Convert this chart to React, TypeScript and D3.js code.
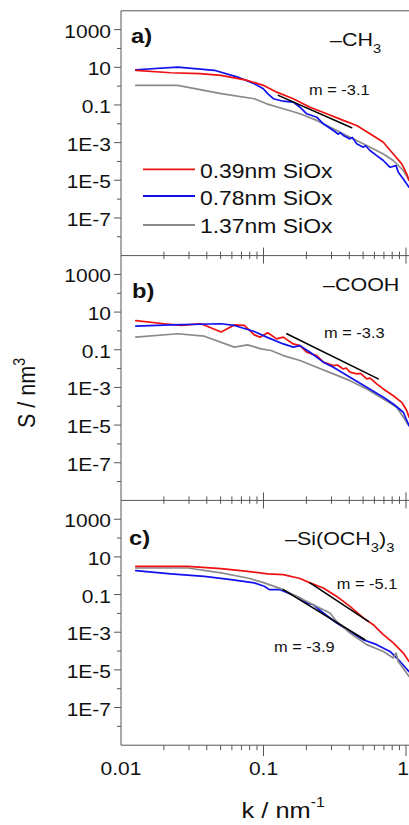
import React from 'react';
import * as d3 from 'd3';

// ---------- data (k in nm^-1, S in nm^3) ----------
const yTickLabels = ['1000', '10', '0.1', '1E-3', '1E-5', '1E-7'];
const yTickValues = [1e3, 1e1, 1e-1, 1e-3, 1e-5, 1e-7];
const yMinorValues = [1e2, 1, 1e-2, 1e-4, 1e-6, 1e-8];
const xTickLabels = ['0.01', '0.1', '1'];
const xTickValues = [0.01, 0.1, 1];
const legendLabels = ['0.39nm SiOx', '0.78nm SiOx', '1.37nm SiOx'];

// panel a) -CH3
const redA_k = [0.0127, 0.0224, 0.0358, 0.0504, 0.0774, 0.0997, 0.1238, 0.1618, 0.212, 0.2777, 0.3631, 0.4508, 0.559, 0.6934, 0.8147, 0.9333, 1.0116, 1.05];
const redA_S = [6.92, 5.13, 4.57, 3.72, 2.0, 1.1, 0.479, 0.214, 0.0759, 0.0339, 0.0151, 0.00813, 0.00295, 1.05e-3, 2.5e-4, 7.4e-5, 2.2e-5, 1e-5];
const blueA_k = [0.0127, 0.025, 0.0452, 0.0659, 0.0861, 0.0997, 0.107, 0.1172, 0.1377, 0.1618, 0.1803, 0.2011, 0.2363, 0.2629, 0.309, 0.335, 0.345, 0.3631, 0.4046, 0.42, 0.4508, 0.5015, 0.52, 0.559, 0.6227, 0.6934, 0.7723, 0.8511, 0.8831, 0.9575, 1.05];
const blueA_S = [7.41, 10.2, 6.92, 3.02, 1.35, 0.724, 0.398, 0.214, 0.158, 0.141, 0.0759, 0.0339, 0.0224, 0.01, 0.00437, 0.0028, 0.0034, 0.0024, 0.00158, 0.0019, 8.7e-4, 5.75e-4, 6.8e-4, 3.8e-4, 2.04e-4, 1.12e-4, 4.9e-5, 6.0e-5, 2.7e-5, 1.17e-5, 4.3e-6];
const grayA_k = [0.0127, 0.025, 0.0504, 0.0861, 0.1053, 0.1377, 0.1803, 0.2363, 0.309, 0.4046, 0.53, 0.6934, 0.8147, 0.9575, 1.05];
const grayA_S = [1.1, 1.1, 0.398, 0.214, 0.115, 0.063, 0.0339, 0.0151, 0.00537, 0.00195, 7.1e-4, 2.5e-4, 1.12e-4, 3.3e-5, 1e-5];
const fitA_k = [0.127, 0.416];
const fitA_S = [0.324, 0.00617];

// panel b) -COOH
const redB_k = [0.0127, 0.0201, 0.0264, 0.0364, 0.0504, 0.0624, 0.0733, 0.0803, 0.0861, 0.0944, 0.107, 0.1238, 0.1377, 0.1618, 0.1803, 0.2011, 0.2363, 0.2629, 0.309, 0.33, 0.3631, 0.38, 0.4046, 0.4508, 0.48, 0.53, 0.56, 0.6227, 0.6934, 0.8147, 0.9333, 1.0116, 1.05];
const redB_S = [3.55, 2.4, 1.95, 2.4, 0.871, 2.09, 1.95, 1.05, 0.617, 0.468, 0.794, 0.38, 0.468, 0.204, 0.166, 0.0741, 0.049, 0.0219, 0.0145, 0.0155, 0.00955, 0.0108, 0.00646, 0.00525, 0.0056, 0.00282, 0.0031, 0.00155, 8.3e-4, 3.6e-4, 1.62e-4, 5.9e-5, 2.6e-5];
const blueB_k = [0.0127, 0.0224, 0.0504, 0.0624, 0.0861, 0.1053, 0.1129, 0.1377, 0.1618, 0.1803, 0.212, 0.2629, 0.309, 0.4046, 0.53, 0.6934, 0.8147, 0.9575, 1.05];
const blueB_S = [1.82, 2.09, 2.4, 1.95, 0.933, 0.468, 0.38, 0.204, 0.138, 0.166, 0.0741, 0.0219, 0.0117, 0.00347, 0.00102, 3.0e-4, 1.32e-4, 4.8e-5, 9.3e-6];
const grayB_k = [0.0127, 0.025, 0.0384, 0.0624, 0.0774, 0.096, 0.1129, 0.1377, 0.1803, 0.2363, 0.309, 0.4046, 0.53, 0.6934, 0.861, 1.05];
const grayB_S = [0.468, 0.708, 0.525, 0.138, 0.182, 0.112, 0.0912, 0.049, 0.0269, 0.0117, 0.00525, 0.00229, 8.3e-4, 2.45e-4, 8.9e-5, 9.3e-6];
const fitB_k = [0.1455, 0.639];
const fitB_S = [0.708, 0.00282];

// panel c) -Si(OCH3)3
const redC_k = [0.0127, 0.0294, 0.0504, 0.0774, 0.107, 0.1377, 0.1803, 0.212, 0.263, 0.3264, 0.4046, 0.5015, 0.5896, 0.6227, 0.6934, 0.8147, 0.9575, 1.05];
const redC_S = [3.16, 3.16, 2.4, 1.7, 1.26, 1.15, 0.708, 0.417, 0.224, 0.0794, 0.0234, 0.00575, 0.00251, 0.00166, 7.4e-4, 2.7e-4, 7.8e-5, 2.8e-5];
const blueC_k = [0.0127, 0.0224, 0.0384, 0.0592, 0.0861, 0.1013, 0.1098, 0.1306, 0.1803, 0.2011, 0.2237, 0.2629, 0.3264, 0.4046, 0.5015, 0.6227, 0.7723, 0.908, 1.05];
const blueC_S = [1.86, 1.26, 0.933, 0.617, 0.417, 0.275, 0.182, 0.182, 0.066, 0.0355, 0.0288, 0.0105, 0.00309, 0.0011, 3.98e-4, 2.19e-4, 9.5e-5, 2.8e-5, 8.1e-6];
const grayC_k = [0.0127, 0.0294, 0.0504, 0.0774, 0.1013, 0.1377, 0.1803, 0.2363, 0.2928, 0.3264, 0.4046, 0.53, 0.6934, 0.8147, 0.8511, 0.8831, 1.05];
const grayC_S = [2.57, 2.57, 1.41, 0.759, 0.417, 0.182, 0.066, 0.0234, 0.0105, 0.00372, 9.1e-4, 2.19e-4, 9.5e-5, 4.3e-5, 7.8e-5, 2.8e-5, 4.5e-6];
const fitC1_k = [0.212, 0.544];
const fitC1_S = [0.417, 0.00372];
const fitC2_k = [0.1377, 0.515];
const fitC2_S = [0.182, 3.98e-4];

// ---------- layout ----------
const W = 409;
const H = 825;
const X0 = 121;
const X1 = 406;
const TOP = 10.8;
const PH = 244.8;
const SX = 1.13;
const FONT = "'Liberation Sans', Arial, Helvetica, sans-serif";
const RED = '#ee1111';
const BLUE = '#1111ee';
const GRAY = '#8a8a8a';
const AXIS = '#555';

const xScale = d3.scaleLog().domain([0.01, 1]).range([X0, X1]);
const yScaleFor = (i: number) =>
  d3.scaleLog().domain([1e-9, 1e4]).range([TOP + (i + 1) * PH, TOP + i * PH]);

type TProps = {
  x: number;
  y: number;
  size: number;
  anchor?: string;
  weight?: string;
  children?: React.ReactNode;
};
function T({ x, y, size, anchor = 'start', weight = 'normal', children }: TProps) {
  return (
    <text
      transform={`translate(${x},${y}) scale(${SX},1)`}
      fontSize={size}
      textAnchor={anchor}
      fontWeight={weight}
      fontFamily={FONT}
      fill="#111"
    >
      {children}
    </text>
  );
}

type Series = { k: number[]; s: number[]; color: string; width: number };

function Panel({ i, series }: { i: number; series: Series[] }) {
  const y = yScaleFor(i);
  const top = TOP + i * PH;
  const pathFor = (sr: Series) =>
    d3
      .line<[number, number]>()
      .x((d) => xScale(d[0]))
      .y((d) => y(d[1]))(sr.k.map((kk, j) => [kk, sr.s[j]] as [number, number])) || '';
  return (
    <g>
      <defs>
        <clipPath id={`clip${i}`}>
          <rect x={X0} y={top} width={W - X0 + 10} height={PH} />
        </clipPath>
      </defs>
      <g clipPath={`url(#clip${i})`}>
        {series.map((sr, j) => (
          <path
            key={j}
            d={pathFor(sr)}
            fill="none"
            stroke={sr.color}
            strokeWidth={sr.width}
            strokeLinejoin="round"
            strokeLinecap="round"
          />
        ))}
      </g>
      {yTickValues.map((v, j) => (
        <g key={'yt' + j}>
          <line x1={X0 - 7} x2={X0} y1={y(v)} y2={y(v)} stroke={AXIS} strokeWidth={1} />
          <T x={X0 - 10} y={y(v) + 8} size={18.6} anchor="end">
            {yTickLabels[j]}
          </T>
        </g>
      ))}
      {yMinorValues.map((v, j) => (
        <line key={'ym' + j} x1={X0 - 4} x2={X0} y1={y(v)} y2={y(v)} stroke={AXIS} strokeWidth={1} />
      ))}
    </g>
  );
}

function XTicks({ yPos, mode }: { yPos: number; mode: 'cross' | 'down' }) {
  const minors: number[] = [];
  [0.01, 0.1].forEach((d) => {
    for (let m = 2; m <= 9; m++) minors.push(d * m);
  });
  const majLen = 8;
  const minLen = 4;
  return (
    <g>
      {xTickValues.slice(1).map((v, j) => (
        <line
          key={'xm' + j}
          x1={xScale(v)}
          x2={xScale(v)}
          y1={mode === 'cross' ? yPos - majLen : yPos}
          y2={yPos + (mode === 'cross' ? majLen : 11)}
          stroke={AXIS}
          strokeWidth={1}
        />
      ))}
      {minors.map((v, j) => (
        <line
          key={'xn' + j}
          x1={xScale(v)}
          x2={xScale(v)}
          y1={mode === 'cross' ? yPos - minLen : yPos}
          y2={yPos + (mode === 'cross' ? minLen - 0.5 : 5)}
          stroke={AXIS}
          strokeWidth={1}
        />
      ))}
    </g>
  );
}

export default function App() {
  const panels: Series[][] = [
    [
      { k: grayA_k, s: grayA_S, color: GRAY, width: 1.7 },
      { k: blueA_k, s: blueA_S, color: BLUE, width: 1.7 },
      { k: redA_k, s: redA_S, color: RED, width: 1.7 },
      { k: fitA_k, s: fitA_S, color: '#000', width: 1.5 },
    ],
    [
      { k: grayB_k, s: grayB_S, color: GRAY, width: 1.7 },
      { k: redB_k, s: redB_S, color: RED, width: 1.7 },
      { k: blueB_k, s: blueB_S, color: BLUE, width: 1.7 },
      { k: fitB_k, s: fitB_S, color: '#000', width: 1.5 },
    ],
    [
      { k: blueC_k, s: blueC_S, color: BLUE, width: 1.7 },
      { k: grayC_k, s: grayC_S, color: GRAY, width: 1.7 },
      { k: redC_k, s: redC_S, color: RED, width: 1.7 },
      { k: fitC1_k, s: fitC1_S, color: '#000', width: 1.5 },
      { k: fitC2_k, s: fitC2_S, color: '#000', width: 1.5 },
    ],
  ];
  const bottom = TOP + 3 * PH;
  const legendColors = [RED, BLUE, GRAY];
  const legendY = [169.3, 196, 225];
  const legendBase = [178.3, 205, 233.3];
  const xLabelPos = (v: number) => Math.min(xScale(v), W - 6);
  return (
    <svg
      width={W}
      height={H}
      style={{ position: 'absolute', left: 0, top: 0, background: '#fff' }}
    >
      <rect x={0} y={0} width={W} height={H} fill="#fff" />
      {panels.map((s, i) => (
        <Panel key={i} i={i} series={s} />
      ))}
      <line x1={X0} x2={W + 5} y1={TOP} y2={TOP} stroke={AXIS} strokeWidth={1} />
      <line x1={X0} x2={W + 5} y1={TOP + PH} y2={TOP + PH} stroke={AXIS} strokeWidth={1} />
      <line x1={X0} x2={W + 5} y1={TOP + 2 * PH} y2={TOP + 2 * PH} stroke={AXIS} strokeWidth={1} />
      <line x1={X0} x2={W + 5} y1={bottom} y2={bottom} stroke={AXIS} strokeWidth={1} />
      <line x1={X0} x2={X0} y1={TOP} y2={bottom} stroke={AXIS} strokeWidth={1} />
      <XTicks yPos={TOP + PH} mode="cross" />
      <XTicks yPos={TOP + 2 * PH} mode="cross" />
      <XTicks yPos={bottom} mode="down" />
      {xTickValues.map((v, j) => (
        <T key={'xl' + j} x={xLabelPos(v)} y={775} size={18.6} anchor="middle">
          {xTickLabels[j]}
        </T>
      ))}

      {legendLabels.map((lab, j) => (
        <g key={'lg' + j}>
          <line x1={143} x2={195} y1={legendY[j]} y2={legendY[j]} stroke={legendColors[j]} strokeWidth={1.8} />
          <T x={200} y={legendBase[j]} size={20.3}>
            {lab}
          </T>
        </g>
      ))}

      <T x={131} y={42.5} size={21} weight="bold">a)</T>
      <T x={330} y={45.5} size={19}>
        –CH<tspan fontSize={13} dy={7}>3</tspan>
      </T>
      <T x={309} y={95} size={14.5}>m = -3.1</T>

      <T x={132} y={298} size={21} weight="bold">b)</T>
      <T x={323} y={290.5} size={19}>–COOH</T>
      <T x={324} y={338.3} size={14.5}>m = -3.3</T>

      <T x={129} y={545} size={21} weight="bold">c)</T>
      <T x={285} y={545} size={19}>
        –Si(OCH<tspan fontSize={13} dy={7}>3</tspan>
        <tspan dy={-7}>)</tspan>
        <tspan fontSize={13} dy={7}>3</tspan>
      </T>
      <T x={336.7} y={589} size={14.5}>m = -5.1</T>
      <T x={274} y={651.7} size={14.5}>m = -3.9</T>

      <text
        transform="translate(35,393) rotate(-90) scale(1,1.13)"
        fontSize={21.5}
        textAnchor="middle"
        fontFamily={FONT}
        fill="#111"
      >
        S / nm<tspan fontSize={14} dy={-9}>3</tspan>
      </text>
      <T x={241.5} y={818} size={22.5}>
        k / nm<tspan fontSize={14} dy={-11}>-1</tspan>
      </T>
    </svg>
  );
}
